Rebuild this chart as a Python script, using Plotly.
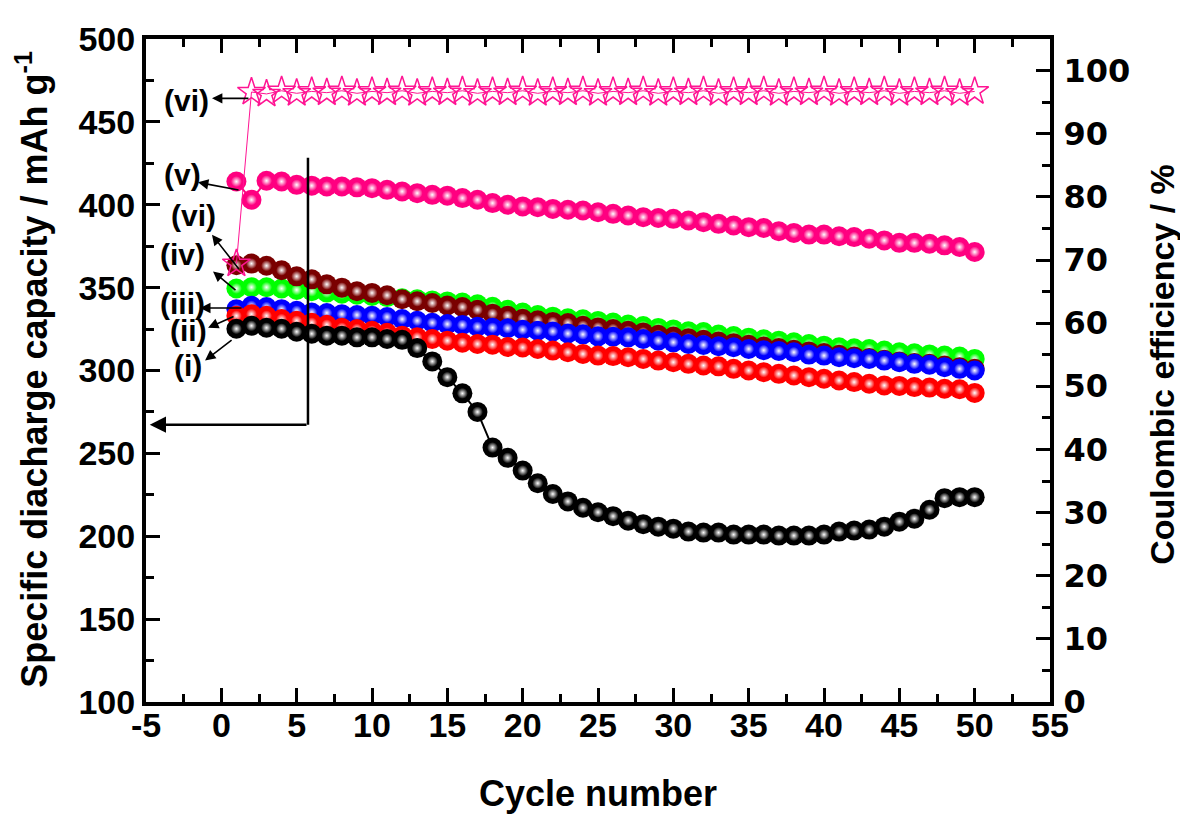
import plotly.graph_objects as go

cycles = list(range(1, 51))

cap_i_black = [325.2, 327, 325.8, 325.2, 323.4, 322.2, 321, 321, 320, 320,
               319, 318.5, 313.5, 305.5, 296, 286.2, 275, 253.5, 247.3, 239.6,
               232, 225.5, 221, 217.2, 214.5, 212.1, 209.4, 207.3, 205.8, 204.6,
               202.8, 202.2, 202.2, 201, 201, 201, 200.4, 200.4, 200.4, 201,
               202.8, 203.4, 204, 205.8, 208.8, 210.6, 216, 223, 223.6, 223.6]
cap_ii_red = [333, 334, 333, 331, 330, 328.8, 327.6, 325.8, 325, 324,
              322.8, 321, 320, 319, 318, 316.8, 316, 315.6, 314.2, 313.9,
              313, 312, 311, 310, 309, 308.7, 308, 307, 306, 305,
              304, 303, 302.5, 301, 300, 299, 298, 297, 296, 295,
              294, 293, 292, 291, 290.7, 290, 289.7, 289, 288.7, 286.5]
cap_iii_blue = [337, 339, 338.3, 337, 336, 335, 334.7, 334, 333.5, 333,
                332.3, 331, 330, 328.8, 328, 327.5, 326.4, 325.8, 325.5, 324.6,
                324, 323.6, 322.3, 321.8, 320.6, 320.4, 320, 319, 318, 317,
                316, 315.4, 314.6, 314, 313, 312.2, 311.8, 311, 309.6, 309,
                308, 307.4, 307, 306, 305, 304, 303.5, 302, 301, 300]
cap_iv_green = [349.5, 350.2, 350.2, 349.5, 348.6, 347.8, 347, 346.3, 345.7, 345,
                344.3, 343.6, 343, 342.3, 341.7, 341, 339.9, 338.4, 336.6, 335,
                333.5, 332.5, 331.5, 330.9, 329.9, 328.9, 327.7, 326.8, 325.7, 324.8,
                323.7, 323.2, 321.7, 320.8, 319.8, 318.8, 318, 317, 316, 315,
                314, 313.4, 313, 312, 311, 310.4, 309.7, 309, 308.4, 307]
cap_brown = [363.5, 364.5, 363.2, 360.5, 356.8, 355, 352, 350, 347.8, 346.8,
             345.4, 343, 341.8, 340.7, 339.2, 338.3, 336.6, 334.3, 333, 331.2,
             330.3, 329.3, 328.6, 327, 326, 325, 324, 323, 321.5, 320.5,
             319.5, 318.5, 317.5, 316.5, 315.5, 314.5, 313.5, 312.5, 311.5, 310.5,
             309.5, 308.5, 307.5, 306.5, 305.5, 304.5, 304, 303, 302, 301]
cap_v_pink = [414, 403, 414.5, 414, 412, 411.5, 411, 411, 410.5, 410,
              409, 408, 407, 406, 405.5, 404, 403, 401, 400, 399,
              398.5, 397.5, 397, 396.5, 395.5, 394.5, 393.5, 392.5, 392, 391.5,
              390.5, 389.5, 388.5, 387.5, 386.5, 386, 384, 383, 382, 382,
              381, 380.5, 379.5, 378.5, 377, 377, 376.5, 375.5, 374.5, 371.5]
ce_vi = [69.4, 96.6, 96.3, 96.8, 96.4, 96.7, 96.5, 96.8, 96.4, 96.7,
         96.5, 96.8, 96.4, 96.7, 96.5, 96.8, 96.4, 96.7, 96.5, 96.8,
         96.4, 96.7, 96.5, 96.8, 96.4, 96.7, 96.5, 96.8, 96.4, 96.7,
         96.5, 96.8, 96.4, 96.7, 96.5, 96.8, 96.4, 96.7, 96.5, 96.8,
         96.4, 96.7, 96.5, 96.8, 96.4, 96.7, 96.5, 96.8, 96.4, 96.7]

x_tickvals = [-5, 0, 5, 10, 15, 20, 25, 30, 35, 40, 45, 50, 55]
x_ticktext = ["-5", "0", "5", "10", "15", "20", "25", "30", "35", "40", "45", "50", "55"]
y_tickvals = [100, 150, 200, 250, 300, 350, 400, 450, 500]
y2_tickvals = [0, 10, 20, 30, 40, 50, 60, 70, 80, 90, 100]

labels = ["(vi)", "(v)", "(vi)", "(iv)", "(iii)", "(ii)", "(i)"]
label_pos = [(-2.33, 463), (-2.6, 418.3), (-1.88, 393.8), (-2.6, 370), (-2.6, 340.7), (-2.2, 324), (-2.2, 303)]
arrow_head = [(-0.62, 464.2), (-1.55, 413.5), (-0.62, 381.9), (-0.55, 359.8), (-1.41, 337.7), (-0.88, 325.8), (-1.08, 306)]
arrow_tail = [(1.9, 464.2), (1.24, 408.7), (1.24, 360.4), (1.04, 347.8), (1.44, 337.7), (0.91, 333), (0.78, 319)]

series = [
    (cap_iv_green, "#00FF00"),
    (cap_brown, "#7A0000"),
    (cap_iii_blue, "#0000FF"),
    (cap_ii_red, "#FF0000"),
    (cap_i_black, "#000000"),
    (cap_v_pink, "#FF0080"),
]

fig = go.Figure()
for vals, col in series:
    fig.add_trace(go.Scatter(x=cycles, y=vals, mode="lines+markers",
                             line=dict(color=col, width=2),
                             marker=dict(size=20, color=col, line=dict(width=0)),
                             showlegend=False))
    fig.add_trace(go.Scatter(x=cycles, y=vals, mode="markers",
                             marker=dict(size=11, color=col, line=dict(width=0),
                                         gradient=dict(type="radial", color="white")),
                             showlegend=False))

fig.add_trace(go.Scatter(x=cycles, y=ce_vi, yaxis="y2", mode="lines+markers",
                         line=dict(color="#FF1493", width=1),
                         marker=dict(symbol="star-open", size=21, color="#FF1493",
                                     line=dict(width=1.5, color="#FF1493")),
                         showlegend=False))

font_main = "Liberation Sans, Arial, sans-serif"
annotations = []
for t, (lx, ly) in zip(labels, label_pos):
    annotations.append(dict(x=lx, y=ly, xref="x", yref="y", text="<b>" + t + "</b>",
                            showarrow=False, font=dict(size=30, family=font_main, color="black")))
for (hx, hy), (tx, ty) in zip(arrow_head, arrow_tail):
    annotations.append(dict(x=hx, y=hy, ax=tx, ay=ty, xref="x", yref="y", axref="x", ayref="y",
                            text="", showarrow=True, arrowhead=2, arrowsize=1.3,
                            arrowwidth=1.6, arrowcolor="black"))
# axis indicator arrow (points to left axis)
annotations.append(dict(x=-4.75, y=267.3, ax=5.75, ay=267.3, xref="x", yref="y",
                        axref="x", ayref="y", text="", showarrow=True, arrowhead=2,
                        arrowsize=1.3, arrowwidth=2.5, arrowcolor="black"))
# axis titles
annotations.append(dict(x=-0.127, y=0.5015, xref="paper", yref="paper", textangle=-90,
                        text="<b>Specific diacharge capacity / mAh g<sup>-1</sup></b>",
                        showarrow=False, xanchor="center", yanchor="middle",
                        font=dict(size=36, family=font_main, color="black")))
annotations.append(dict(x=1.123, y=0.509, xref="paper", yref="paper", textangle=-90,
                        text="<b>Coulombic efficiency / %</b>",
                        showarrow=False, xanchor="center", yanchor="middle",
                        font=dict(size=34, family=font_main, color="black")))
annotations.append(dict(x=0.5, y=-0.138, xref="paper", yref="paper",
                        text="<b>Cycle number</b>",
                        showarrow=False, xanchor="center", yanchor="middle",
                        font=dict(size=36, family=font_main, color="black")))

shapes = [dict(type="line", xref="x", yref="y", x0=5.75, x1=5.75, y0=428.4, y1=267.3,
               line=dict(color="black", width=2.5))]

# The page body has an 8px margin, so the figure is made 8px smaller and
# margins reduced so that the plot area lands at the reference position.
fig.update_layout(
    width=1180, height=806,
    margin=dict(l=138, r=138, t=22, b=112),
    paper_bgcolor="white", plot_bgcolor="white",
    annotations=annotations, shapes=shapes,
    xaxis=dict(range=[-5, 55], tickvals=x_tickvals, ticktext=x_ticktext,
               showgrid=False, zeroline=False, showline=True, linecolor="black", linewidth=4,
               mirror="ticks", ticks="inside", ticklen=14, tickwidth=3, tickcolor="black",
               minor=dict(ticks="inside", ticklen=8, tickwidth=3, dtick=2.5, tick0=0, tickcolor="black"),
               ticklabelstandoff=-10,
               tickfont=dict(size=34, family=font_main, color="black", weight="bold")),
    yaxis=dict(range=[100, 500], tickvals=y_tickvals,
               showgrid=False, zeroline=False, showline=True, linecolor="black", linewidth=4,
               ticks="inside", ticklen=14, tickwidth=3, tickcolor="black",
               minor=dict(ticks="inside", ticklen=8, tickwidth=3, dtick=25, tick0=0, tickcolor="black"),
               tickfont=dict(size=34, family=font_main, color="black", weight="bold")),
    yaxis2=dict(range=[0, 105], tickvals=y2_tickvals, overlaying="y", side="right",
                showgrid=False, zeroline=False, showline=True, linecolor="black", linewidth=4,
                ticks="inside", ticklen=14, tickwidth=3, tickcolor="black",
                minor=dict(ticks="inside", ticklen=8, tickwidth=3, dtick=5, tick0=0, tickcolor="black"),
                ticklabelstandoff=3,
                tickfont=dict(size=32, family="DejaVu Sans, " + font_main, color="black", weight="bold")),
)

fig.write_html("out.html")
